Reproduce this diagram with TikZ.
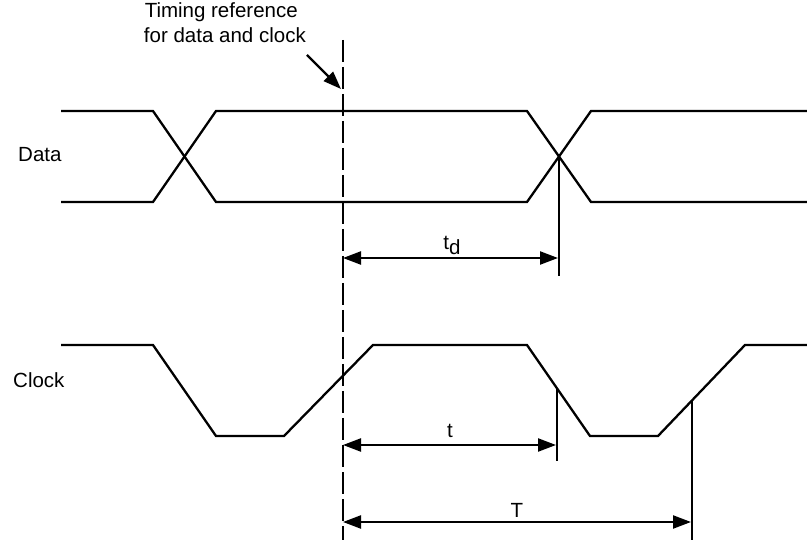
\documentclass[tikz,border=0pt]{standalone}
\usepackage{fontspec}
\setmainfont{Liberation Sans}
\usetikzlibrary{arrows.meta}
\begin{document}
\begin{tikzpicture}[x=1pt,y=-1pt,
  wave/.style={line width=2.3pt,line join=miter},
  dimline/.style={line width=2.3pt,{Triangle[length=18pt,width=13pt]}-{Triangle[length=18pt,width=13pt]}},
  callout/.style={line width=2.3pt,-{Triangle[length=18pt,width=13pt]}},
  refline/.style={line width=2.3pt,dash pattern=on 22pt off 5pt},
  ext/.style={line width=2.3pt},
  lbl/.style={font=\fontsize{20.5}{25}\selectfont,inner sep=0pt}]
\useasboundingbox (0,0) rectangle (807,540);
% labels
\node[lbl,anchor=base west] (data) at (18,162) {Data};
\node[lbl,anchor=base west] (clock) at (13,388) {Clock};
\node[lbl,anchor=base east] (ref1) at (298,18) {Timing reference};
\node[lbl,anchor=base east] (ref2) at (306,43) {for data and clock};
% data waveform
\draw[wave] (61,111) -- (153,111) -- (216,202) -- (527,202) -- (591,111) -- (807,111);
\draw[wave] (61,202) -- (153,202) -- (216,111) -- (527,111) -- (591,202) -- (807,202);
% clock waveform
\draw[wave] (61,345) -- (153,345) -- (216,436) -- (284,436) -- (373,345) -- (527,345) -- (590,436) -- (658,436) -- (745,345) -- (807,345);
% timing reference
\coordinate (reftop) at (343,40);
\coordinate (refbot) at (343,540);
\draw[refline] (reftop) -- (refbot);
\coordinate (arrstart) at (307,55);
\coordinate (arrend) at (341,89);
\draw[callout] (arrstart) -- (arrend);
% extension lines
\coordinate (cross) at (559,157);
\coordinate (crossbot) at (559,276);
\draw[ext] (cross) -- (crossbot);
\coordinate (fall) at (557,388);
\coordinate (fallbot) at (557,461);
\draw[ext] (fall) -- (fallbot);
\coordinate (rise) at (692,400);
\coordinate (risebot) at (692,540);
\draw[ext] (rise) -- (risebot);
% dimension arrows
\coordinate (tdl) at (343,258);
\coordinate (tdr) at (558,258);
\draw[dimline] (tdl) -- (tdr);
\node[lbl,anchor=base] (tdlab) at (452,250) {t\raisebox{-0.45ex}{\fontsize{20.5}{20}\selectfont d}};
\coordinate (tl) at (343,445);
\coordinate (tr) at (556,445);
\draw[dimline] (tl) -- (tr);
\node[lbl,anchor=base] (tlab) at (450,438) {t};
\coordinate (Tl) at (343,522);
\coordinate (Tr) at (691,522);
\draw[dimline] (Tl) -- (Tr);
\node[lbl,anchor=base] (Tlab) at (517,517) {T};
\end{tikzpicture}
\end{document}
